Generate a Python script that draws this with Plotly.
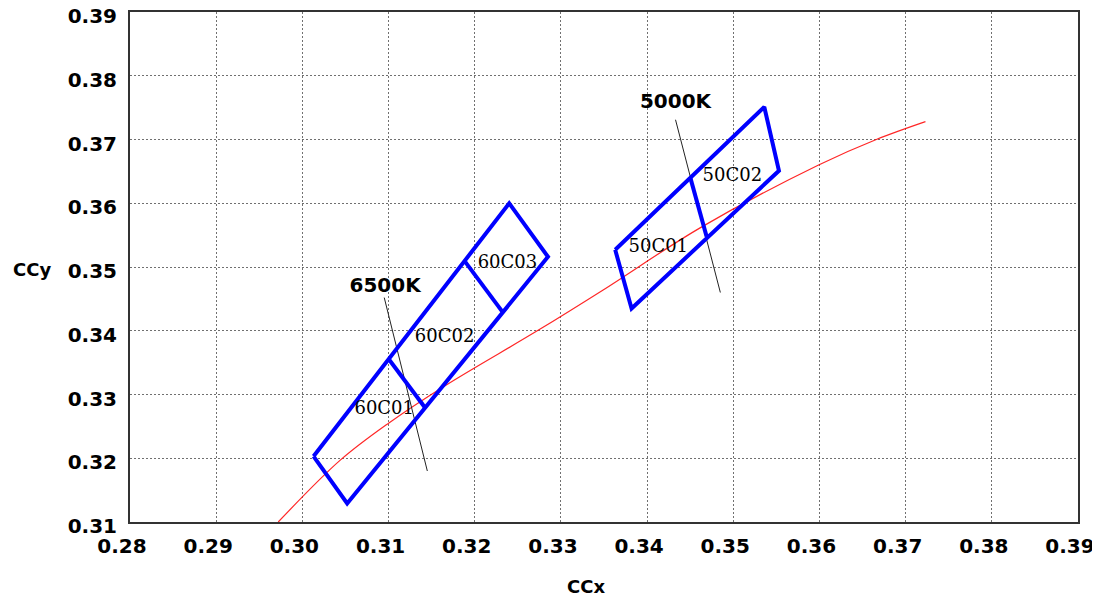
import plotly.graph_objects as go

# Axis ranges / ticks
x_range = [0.28, 0.39]
y_range = [0.31, 0.39]
x_ticks = [0.28, 0.29, 0.30, 0.31, 0.32, 0.33, 0.34, 0.35, 0.36, 0.37, 0.38, 0.39]
x_tick_text = ["0.28", "0.29", "0.30", "0.31", "0.32", "0.33", "0.34", "0.35", "0.36", "0.37", "0.38", "0.39"]
y_ticks = [0.31, 0.32, 0.33, 0.34, 0.35, 0.36, 0.37, 0.38, 0.39]
y_tick_text = ["0.31", "0.32", "0.33", "0.34", "0.35", "0.36", "0.37", "0.38", "0.39"]

# Red curve (locus)
locus_x = [0.2972, 0.3044, 0.3100, 0.3167, 0.3274, 0.3349, 0.3461, 0.3599, 0.3666, 0.3723]
locus_y = [0.3100, 0.3197, 0.3255, 0.3315, 0.3401, 0.3464, 0.3561, 0.3660, 0.3700, 0.3728]

# 6500K bin outline and dividers
box6500_x = [0.3013, 0.3240, 0.3285, 0.3052, 0.3013]
box6500_y = [0.3203, 0.3600, 0.3516, 0.3129, 0.3203]
div6500a_x = [0.3101, 0.3142]
div6500a_y = [0.3354, 0.3280]
div6500b_x = [0.3189, 0.3232]
div6500b_y = [0.3508, 0.3430]

# 5000K bin outline and divider
box5000_x = [0.3363, 0.3536, 0.3553, 0.3382, 0.3363]
box5000_y = [0.3527, 0.3751, 0.3651, 0.3435, 0.3527]
div5000_x = [0.3450, 0.3469]
div5000_y = [0.3641, 0.3548]

# Isotherm lines
iso6500_x = [0.3095, 0.3145]
iso6500_y = [0.3452, 0.3180]
iso5000_x = [0.3433, 0.3485]
iso5000_y = [0.3731, 0.3460]

# Labels
cct_labels = ["6500K", "5000K"]
cct_x = [0.3096, 0.3433]
cct_y = [0.3469, 0.3757]

bin_labels = ["60C01", "60C02", "60C03", "50C01", "50C02"]
bin_x = [0.3095, 0.3165, 0.3238, 0.3413, 0.3499]
bin_y = [0.3276, 0.3389, 0.3505, 0.3530, 0.3642]

BLUE = "#0000FF"

fig = go.Figure()

fig.add_trace(go.Scatter(x=locus_x, y=locus_y, mode="lines",
                         line=dict(color="rgba(255,0,0,0.85)", width=1.2, shape="spline"),
                         hoverinfo="skip"))

for xs, ys in [(iso6500_x, iso6500_y), (iso5000_x, iso5000_y)]:
    fig.add_trace(go.Scatter(x=xs, y=ys, mode="lines",
                             line=dict(color="#222222", width=1), hoverinfo="skip"))

for xs, ys in [(box6500_x, box6500_y), (div6500a_x, div6500a_y), (div6500b_x, div6500b_y),
               (box5000_x, box5000_y), (div5000_x, div5000_y)]:
    fig.add_trace(go.Scatter(x=xs, y=ys, mode="lines",
                             line=dict(color=BLUE, width=4), hoverinfo="skip"))

fig.add_trace(go.Scatter(x=cct_x, y=cct_y, mode="text", text=cct_labels,
                         textfont=dict(family="DejaVu Sans", size=20, color="black", weight="bold"),
                         hoverinfo="skip"))
fig.add_trace(go.Scatter(x=bin_x, y=bin_y, mode="text", text=bin_labels,
                         textfont=dict(family="DejaVu Serif", size=18, color="black"),
                         hoverinfo="skip"))

tickfont = dict(family="DejaVu Sans", size=20, color="black", weight="bold")
common = dict(showgrid=True, gridcolor="#707070", gridwidth=1, griddash="2px,2px",
              zeroline=False, showline=True, mirror=True, linecolor="#333333", linewidth=2,
              tickfont=tickfont, ticks="", automargin=False, ticklabeloverflow="allow")

fig.update_xaxes(range=x_range, tickmode="array", tickvals=x_ticks, ticktext=x_tick_text,
                 ticklabelstandoff=5, ticklabelshift=-8, **common)
fig.update_yaxes(range=y_range, tickmode="array", tickvals=y_ticks, ticktext=y_tick_text,
                 ticklabelstandoff=7, ticklabelshift=4, **common)

fig.add_annotation(text="CCy", xref="paper", yref="paper", x=-0.1034, y=0.496,
                   showarrow=False, xanchor="center", yanchor="middle",
                   font=dict(family="DejaVu Sans", size=18, color="black", weight="bold"))
fig.add_annotation(text="CCx", xref="paper", yref="paper", x=0.481, y=-0.1255,
                   showarrow=False, xanchor="center", yanchor="middle",
                   font=dict(family="DejaVu Sans", size=18, color="black", weight="bold"))

# page body adds an 8px offset; margins compensate so the plot area sits at 130..1078 x 12..522
fig.update_layout(width=1100, height=600, showlegend=False,
                  margin=dict(l=122, r=30, t=4, b=86),
                  plot_bgcolor="white", paper_bgcolor="white")

fig.write_html("out.html")
